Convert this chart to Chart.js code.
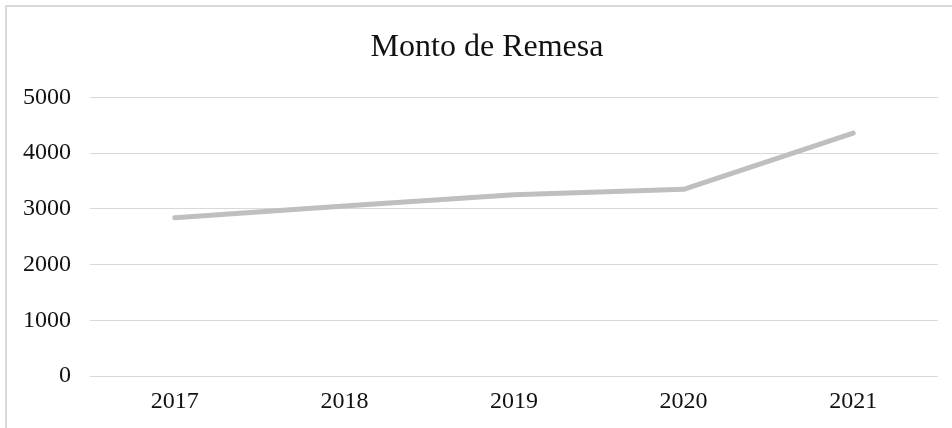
<!DOCTYPE html>
<html>
<head>
<meta charset="utf-8">
<script src="https://cdn.jsdelivr.net/npm/chart.js@4.4.0/dist/chart.umd.min.js"></script>
<style>
  html, body { margin: 0; padding: 0; background: #fff; }
  body { width: 952px; height: 428px; position: relative; overflow: hidden; }
  .frame { position: absolute; left: 5px; top: 5px; width: 960px; height: 440px;
           border: 2px solid #d9d9d9; box-sizing: border-box; }
  .wrap { position: absolute; left: 0; top: 0; width: 990px; height: 428px; }
</style>
</head>
<body>
<div class="frame"></div>
<div class="wrap"><canvas id="chart"></canvas></div>
<script>
const years  = ['2017', '2018', '2019', '2020', '2021'];
const monto  = [2840, 3050, 3255, 3350, 4360];
const yTicks = [0, 1000, 2000, 3000, 4000, 5000];

const serif = "'Liberation Serif', 'Times New Roman', serif";

new Chart(document.getElementById('chart'), {
  type: 'line',
  data: {
    labels: years,
    datasets: [{
      label: 'Monto de Remesa',
      data: monto,
      borderColor: '#bfbfbf',
      borderWidth: 5,
      borderCapStyle: 'round',
      borderJoinStyle: 'round',
      pointRadius: 0,
      tension: 0,
      fill: false
    }]
  },
  options: {
    responsive: true,
    maintainAspectRatio: false,
    animation: false,
    layout: { padding: { left: 4, right: 20, top: 0, bottom: 0 } },
    plugins: {
      legend: { display: false },
      tooltip: { enabled: false },
      title: {
        display: true,
        text: 'Monto de Remesa',
        color: '#111',
        font: { family: serif, size: 32, weight: 'normal' },
        padding: { top: 28, bottom: 31 }
      }
    },
    scales: {
      x: {
        offset: true,
        grid: { display: false, drawTicks: false },
        border: { display: false },
        ticks: { color: '#111', padding: 14, font: { family: serif, size: 24, lineHeight: 1.0 } }
      },
      y: {
        min: yTicks[0],
        max: yTicks[yTicks.length - 1],
        afterBuildTicks: axis => { axis.ticks = yTicks.map(v => ({ value: v })); },
        grid: { color: '#d9d9d9', lineWidth: 1, drawTicks: false },
        border: { display: false },
        ticks: {
          color: '#111', padding: 19, font: { family: serif, size: 24 },
          callback: v => String(v)
        }
      },
      // empty spacer on the right so the title centres like the original frame
      spacer: {
        type: 'linear',
        position: 'right',
        grid: { display: false, drawTicks: false },
        border: { display: false },
        ticks: { display: false },
        afterFit: s => { s.width = 32; }
      }
    }
  }
});
</script>
</body>
</html>
